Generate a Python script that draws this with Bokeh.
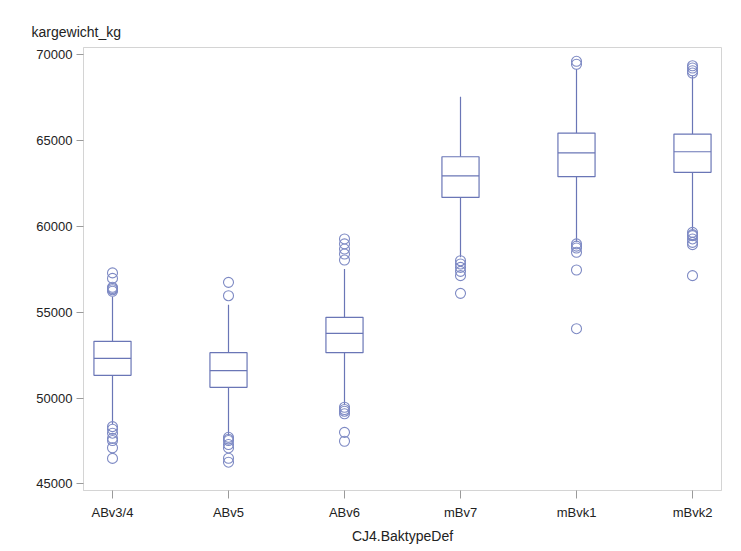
from bokeh.plotting import figure
from bokeh.models import ColumnDataSource, FactorRange, SingleIntervalTicker, Range1d, Title
from bokeh.transform import dodge
from bokeh.embed import file_html
from bokeh.resources import INLINE

# Carcass weight (kg) per construction type
categories = ["ABv3/4", "ABv5", "ABv6", "mBv7", "mBvk1", "mBvk2"]
q1 = [51320, 50620, 52640, 61690, 62900, 63150]
median = [52310, 51600, 53770, 62940, 64280, 64350]
q3 = [53300, 52640, 54700, 64060, 65440, 65380]
whisker_low = [48490, 47810, 49610, 58200, 59110, 59750]
whisker_high = [55900, 55440, 57520, 67550, 69170, 68780]

outliers = {
    "ABv3/4": [57290, 56970, 56450, 56380, 56310, 56220,
               48330, 48180, 47950, 47650, 47520, 47100, 46480],
    "ABv5": [56740, 55960,
             47710, 47600, 47520, 47290, 47090, 46490, 46260],
    "ABv6": [59270, 58980, 58680, 58390, 58040,
             49460, 49330, 49230, 49080, 48000, 47480],
    "mBv7": [58000, 57810, 57610, 57380, 57130, 56100],
    "mBvk1": [69620, 69450,
              58980, 58850, 58740, 58490, 57460, 54040],
    "mBvk2": [69360, 69230, 69070, 68940,
              59650, 59520, 59460, 59270, 59070, 58940, 57130],
}

LINE = "#6a76b6"
CIRCLE = "#7e8ac4"
FONT = "Liberation Sans"

box_src = ColumnDataSource(dict(cat=categories, q1=q1, median=median, q3=q3,
                                lo=whisker_low, hi=whisker_high))
out_cat, out_val = [], []
for c in categories:
    for v in outliers[c]:
        out_cat.append(c)
        out_val.append(v)
out_src = ColumnDataSource(dict(cat=out_cat, val=out_val))

p = figure(
    width=741, height=551,
    x_range=FactorRange(factors=categories, range_padding=-0.25,
                        range_padding_units="absolute"),
    y_range=Range1d(44610, 70425),
    output_backend="svg", toolbar_location=None,
    min_border_left=83, min_border_right=20, min_border_top=47,
    min_border_bottom=61,
    background_fill_color="white", border_fill_color="white",
    outline_line_color="#d4d4d4", outline_line_width=1,
)

title = Title(text="kargewicht_kg", align="left", offset=-52,
              text_font=FONT, text_font_size="14px", text_font_style="normal",
              text_color="#222222", standoff=15)
p.add_layout(title, "above")

# whiskers
p.segment(x0="cat", x1="cat", y0="q3", y1="hi", source=box_src,
          line_color=LINE, line_width=1.2)
p.segment(x0="cat", x1="cat", y0="lo", y1="q1", source=box_src,
          line_color=LINE, line_width=1.2)
# boxes
p.vbar(x="cat", bottom="q1", top="q3", width=0.32, source=box_src,
       fill_color="white", line_color=LINE, line_width=1.2)
# medians
p.segment(x0=dodge("cat", -0.16, range=p.x_range),
          x1=dodge("cat", 0.16, range=p.x_range),
          y0="median", y1="median", source=box_src,
          line_color=LINE, line_width=1.2)
# outliers
p.scatter(x="cat", y="val", source=out_src, marker="circle", size=10,
          fill_color=None, line_color=CIRCLE, line_width=1.1)

p.xgrid.visible = False
p.ygrid.visible = False

p.yaxis.ticker = SingleIntervalTicker(interval=5000)
p.yaxis.minor_tick_line_color = None
p.xaxis.axis_label = "CJ4.BaktypeDef"

for ax in (p.xaxis[0], p.yaxis[0]):
    ax.axis_line_color = "#d4d4d4"
    ax.major_tick_line_color = "#9a9a9a"
    ax.major_tick_in = 0
    ax.major_label_text_font = FONT
    ax.major_label_text_font_size = "13px"
    ax.major_label_text_color = "#222222"
    ax.axis_label_text_font = FONT
    ax.axis_label_text_font_size = "14px"
    ax.axis_label_text_font_style = "normal"
    ax.axis_label_text_color = "#222222"

p.yaxis.major_tick_out = 7
p.yaxis.major_label_standoff = 4
p.xaxis.major_tick_out = 8
p.xaxis.major_label_standoff = 6
p.xaxis.axis_label_standoff = 5

open("out.html", "w").write(file_html(p, INLINE))
